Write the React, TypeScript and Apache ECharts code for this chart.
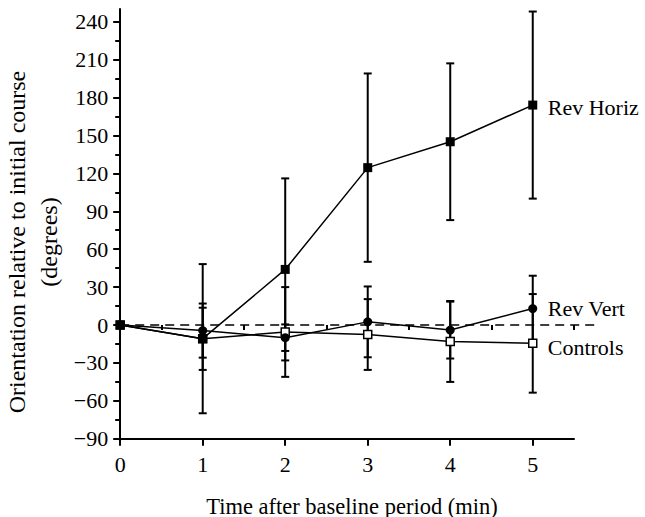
import React, { useEffect, useRef } from "react";
import * as echarts from "echarts";

const times = [0, 1, 2, 3, 4, 5];
const revHoriz = [0, -10.8, 44, 124.5, 145, 174];
const revHorizErr = [0, 59, 72, 74.5, 62, 74];
const revVert = [0, -4.4, -10, 2.5, -4, 13];
const revVertErr = [0, 21.4, 10.5, 28, 22.5, 26];
const controls = [0, -10.9, -5.5, -7.5, -13, -14.5];
const controlsErr = [0, 24.6, 35.5, 28, 32, 39];

const xMajorTicks = [0, 1, 2, 3, 4, 5];
const xMinorTicks = [0.5, 1.5, 2.5, 3.5, 4.5, 5.5];
const yMajorTicks = [-90, -60, -30, 0, 30, 60, 90, 120, 150, 180, 210, 240];
const yMinorTicks = [-75, -45, -15, 15, 45, 75, 105, 135, 165, 195, 225];
const baselineX = [0, 5.78];

const FONT = "Liberation Serif";

export default function App() {
  const ref = useRef<HTMLDivElement>(null);
  useEffect(() => {
    if (!ref.current) return;
    const chart = echarts.init(ref.current, null, { renderer: "svg" });
    const pts = (ys: number[]) => times.map((t, i) => [t, ys[i]]);
    const errPts = (ys: number[], es: number[]) => times.map((t, i) => [t, ys[i], es[i]]);
    const errRender = (params: any, api: any) => {
      const x = api.value(0);
      const y = api.value(1);
      const e = api.value(2);
      if (!e) return { type: "group", children: [] };
      const top = api.coord([x, y + e]);
      const bot = api.coord([x, y - e]);
      const w = 4;
      const st = { stroke: "#000", lineWidth: 2 };
      return {
        type: "group",
        children: [
          { type: "line", shape: { x1: top[0], y1: top[1], x2: bot[0], y2: bot[1] }, style: st },
          { type: "line", shape: { x1: top[0] - w, y1: top[1], x2: top[0] + w, y2: top[1] }, style: st },
          { type: "line", shape: { x1: bot[0] - w, y1: bot[1], x2: bot[0] + w, y2: bot[1] }, style: st },
        ],
      };
    };
    const errSeries = (ys: number[], es: number[]) => ({
      type: "custom",
      renderItem: errRender,
      data: errPts(ys, es),
      z: 1,
      silent: true,
      encode: { x: 0, y: 1 },
    });
    const endLabel = (dy: number) => ({
      show: true,
      formatter: "{a}",
      fontFamily: FONT,
      fontSize: 22,
      color: "#000",
      distance: 15,
      offset: [0, dy],
    });
    const lineSeries = (name: string, ys: number[], symbol: string, size: number, fill: string, dy: number) => ({
      type: "line",
      name,
      data: pts(ys),
      symbol,
      symbolSize: size,
      showAllSymbol: true,
      itemStyle: { color: fill, borderColor: "#000", borderWidth: fill === "#fff" ? 1.5 : 0 },
      lineStyle: { color: "#000", width: 1.5 },
      endLabel: endLabel(dy),
      z: 3,
    });
    const axisLineStyle = { color: "#000", width: 2 };
    const hiddenAxis = { show: false };
    chart.setOption({
      animation: false,
      textStyle: { fontFamily: FONT },
      grid: [
        { left: 120.2, right: 71, top: 9, bottom: 78.2, containLabel: false },
        { left: 120.2, right: 48, top: 9, bottom: 78.2, containLabel: false },
      ],
      xAxis: [
        {
          type: "value",
          gridIndex: 0,
          min: 0,
          max: 5.5,
          position: "bottom",
          axisLine: { show: true, onZero: false, lineStyle: axisLineStyle },
          axisTick: { show: true, customValues: xMajorTicks, length: 7, lineStyle: axisLineStyle },
          axisLabel: { show: true, customValues: xMajorTicks, fontFamily: FONT, fontSize: 22, color: "#000", margin: 15 },
          splitLine: { show: false },
        },
        {
          type: "value",
          gridIndex: 0,
          min: 0,
          max: 5.5,
          position: "bottom",
          axisLine: { show: false },
          axisTick: { show: true, customValues: xMinorTicks, length: 5, lineStyle: axisLineStyle },
          axisLabel: { show: false },
          splitLine: { show: false },
        },
        { type: "value", gridIndex: 1, min: 0, max: 5.78, ...hiddenAxis },
      ],
      yAxis: [
        {
          type: "value",
          gridIndex: 0,
          min: -90,
          max: 250,
          position: "left",
          axisLine: { show: true, onZero: false, lineStyle: axisLineStyle },
          axisTick: { show: true, customValues: yMajorTicks, length: 7, lineStyle: axisLineStyle },
          axisLabel: {
            show: true,
            customValues: yMajorTicks,
            fontFamily: FONT,
            fontSize: 22,
            color: "#000",
            margin: 12,
            formatter: (v: number) => (v < 0 ? "\u2212" + Math.abs(v) : String(v)),
          },
          splitLine: { show: false },
        },
        {
          type: "value",
          gridIndex: 0,
          min: -90,
          max: 250,
          position: "left",
          axisLine: { show: false },
          axisTick: { show: true, customValues: yMinorTicks, length: 5, lineStyle: axisLineStyle },
          axisLabel: { show: false },
          splitLine: { show: false },
        },
        { type: "value", gridIndex: 1, min: -90, max: 250, ...hiddenAxis },
      ],
      series: [
        {
          type: "line",
          name: "baseline",
          xAxisIndex: 2,
          yAxisIndex: 2,
          data: baselineX.map((x) => [x, 0]),
          symbol: "none",
          lineStyle: { color: "#000", width: 1.5, type: [9, 6] },
          z: 0,
          silent: true,
        },
        errSeries(controls, controlsErr),
        errSeries(revVert, revVertErr),
        errSeries(revHoriz, revHorizErr),
        lineSeries("Controls", controls, "rect", 8, "#fff", 4),
        lineSeries("Rev Vert", revVert, "circle", 9, "#000", 0),
        lineSeries("Rev Horiz", revHoriz, "rect", 9, "#000", 2),
      ],
      graphic: [
        {
          type: "text",
          x: 17,
          y: 242,
          rotation: Math.PI / 2,
          style: {
            text: "Orientation relative to initial course",
            fontFamily: FONT,
            fontSize: 24,
            fill: "#000",
            align: "center",
            verticalAlign: "middle",
          },
        },
        {
          type: "text",
          x: 49,
          y: 242,
          rotation: Math.PI / 2,
          style: {
            text: "(degrees)",
            fontFamily: FONT,
            fontSize: 24,
            fill: "#000",
            align: "center",
            verticalAlign: "middle",
          },
        },
        {
          type: "text",
          x: 352,
          y: 506,
          style: {
            text: "Time after baseline period (min)",
            fontFamily: FONT,
            fontSize: 22.5,
            fill: "#000",
            align: "center",
            verticalAlign: "middle",
          },
        },
      ],
    });
    return () => chart.dispose();
  }, []);
  return (
    <div
      ref={ref}
      style={{ position: "fixed", left: 0, top: 0, width: 645, height: 517, background: "#fff" }}
    />
  );
}
